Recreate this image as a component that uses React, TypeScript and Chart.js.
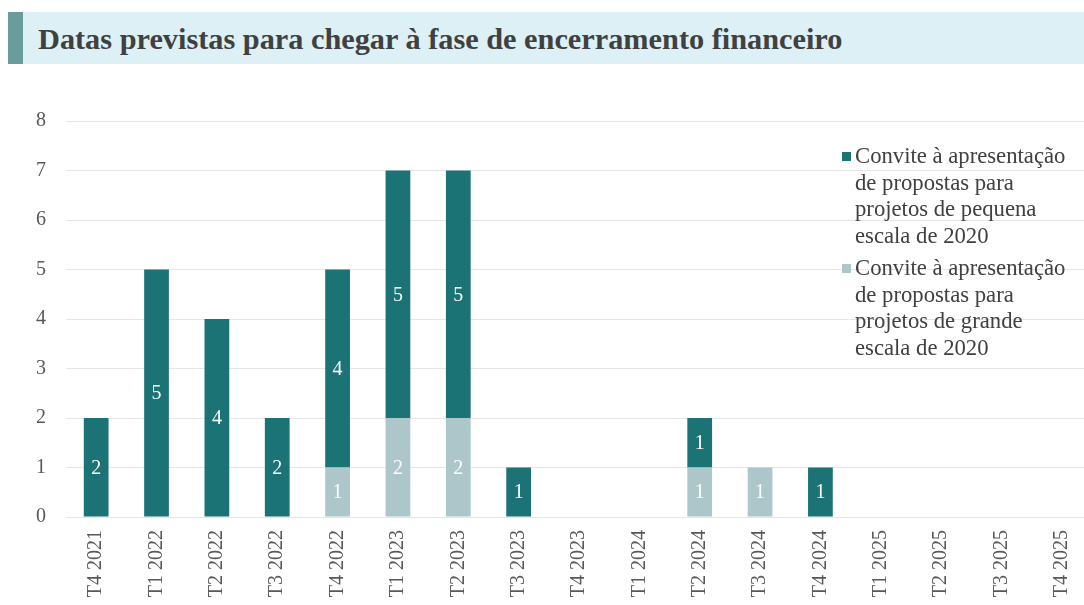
import React, { useEffect, useRef } from 'react';
import { Chart, registerables } from 'chart.js';

Chart.register(...registerables);

const TITLE = 'Datas previstas para chegar à fase de encerramento financeiro';

const categories = [
  'T4 2021', 'T1 2022', 'T2 2022', 'T3 2022', 'T4 2022', 'T1 2023', 'T2 2023', 'T3 2023', 'T4 2023',
  'T1 2024', 'T2 2024', 'T3 2024', 'T4 2024', 'T1 2025', 'T2 2025', 'T3 2025', 'T4 2025',
];

const smallScaleValues = [2, 5, 4, 2, 4, 5, 5, 1, null, null, 1, null, 1, null, null, null, null];
const largeScaleValues = [null, null, null, null, 1, 2, 2, null, null, null, 1, 1, null, null, null, null, null];

const smallScaleLabel = ['Convite à apresentação', 'de propostas para', 'projetos de pequena', 'escala de 2020'];
const largeScaleLabel = ['Convite à apresentação', 'de propostas para', 'projetos de grande', 'escala de 2020'];

const Y_MIN = 0;
const Y_MAX = 8;
const Y_STEP = 1;

const DARK = '#1b7375';
const LIGHT = '#adc6c9';
const SERIF = '"Liberation Serif", "Times New Roman", serif';

const valueLabels = {
  id: 'valueLabels',
  afterDatasetsDraw(chart: any) {
    const ctx = chart.ctx;
    ctx.save();
    ctx.font = `20px ${SERIF}`;
    ctx.fillStyle = '#ffffff';
    ctx.textAlign = 'center';
    ctx.textBaseline = 'middle';
    chart.data.datasets.forEach((ds: any, i: number) => {
      const meta = chart.getDatasetMeta(i);
      meta.data.forEach((bar: any, j: number) => {
        const v = ds.data[j];
        if (v == null || v === 0) return;
        const p = bar.getProps(['x', 'y', 'base'], true);
        ctx.fillText(String(v), p.x, (p.y + p.base) / 2 + 1);
      });
    });
    ctx.restore();
  },
};

const legendItems = [
  { lines: smallScaleLabel, color: DARK },
  { lines: largeScaleLabel, color: LIGHT },
];

export default function App() {
  const canvasRef = useRef<HTMLCanvasElement | null>(null);

  useEffect(() => {
    if (!canvasRef.current) return;
    const chart = new Chart(canvasRef.current, {
      type: 'bar',
      data: {
        labels: categories,
        datasets: [
          {
            label: largeScaleLabel.join(' '),
            data: largeScaleValues,
            backgroundColor: LIGHT,
            barPercentage: 1,
            categoryPercentage: 0.41,
          },
          {
            label: smallScaleLabel.join(' '),
            data: smallScaleValues,
            backgroundColor: DARK,
            barPercentage: 1,
            categoryPercentage: 0.41,
          },
        ],
      },
      options: {
        animation: false,
        responsive: true,
        maintainAspectRatio: false,
        layout: { padding: { top: 9, left: 0, right: 0, bottom: 0 } },
        plugins: {
          legend: { display: false },
          tooltip: { enabled: false },
          title: { display: false },
        },
        scales: {
          x: {
            stacked: true,
            grid: { display: false },
            border: { display: false },
            ticks: {
              minRotation: 90,
              maxRotation: 90,
              padding: 5,
              color: '#595959',
              font: { family: SERIF, size: 20 },
              autoSkip: false,
            },
            afterFit: (scale: any) => {
              scale.height = 103;
            },
          },
          y: {
            stacked: true,
            min: Y_MIN,
            max: Y_MAX,
            grid: { color: '#e6e6e6', drawTicks: false, lineWidth: 1 },
            border: { display: false },
            ticks: {
              stepSize: Y_STEP,
              padding: 20,
              color: '#595959',
              font: { family: SERIF, size: 20 },
            },
            afterFit: (scale: any) => {
              scale.width = 66;
            },
          },
        },
      },
      plugins: [valueLabels],
    });
    return () => chart.destroy();
  }, []);

  return (
    <div style={{ position: 'fixed', left: 0, top: 0, width: 1084, height: 605, overflow: 'hidden', background: '#ffffff' }}>
      <div
        style={{
          position: 'absolute',
          left: 8,
          top: 12,
          width: 1076,
          height: 52,
          background: '#dcf0f6',
        }}
      >
        <div style={{ position: 'absolute', left: 0, top: 0, width: 15, height: 52, background: '#6b9c9c' }} />
        <div
          style={{
            position: 'absolute',
            left: 30,
            top: 0,
            height: 52,
            lineHeight: '54px',
            fontFamily: SERIF,
            fontWeight: 'bold',
            fontSize: 30.3,
            color: '#404040',
            whiteSpace: 'nowrap',
          }}
        >
          {TITLE}
        </div>
      </div>
      <div style={{ position: 'absolute', left: 0, top: 89, width: 1092, height: 531 }}>
        <canvas ref={canvasRef} />
      </div>
      <div style={{ position: 'absolute', left: 836, top: 143, fontFamily: SERIF, fontSize: 22.7, color: '#404040' }}>
        {legendItems.map((item, i) => (
          <div key={i} style={{ position: 'relative', paddingLeft: 19, marginBottom: 5, lineHeight: '26.7px' }}>
            <div
              style={{ position: 'absolute', left: 6, top: 9, width: 9, height: 9, background: item.color }}
            />
            {item.lines.map((l, k) => (
              <div key={k} style={{ whiteSpace: 'nowrap' }}>{l}</div>
            ))}
          </div>
        ))}
      </div>
    </div>
  );
}
